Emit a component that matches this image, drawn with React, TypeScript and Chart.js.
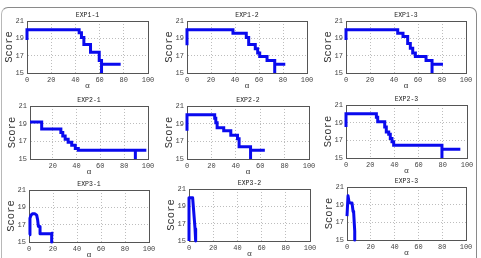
import { useEffect, useRef } from "react";
import { Chart, registerables } from "chart.js";

Chart.register(...registerables);

// Axis ticks shared by every panel
const xTicks = [0, 20, 40, 60, 80, 100];
const yTicks = [15, 17, 19, 21];

// EXP1-1
const exp11Alpha = [0, 0, 43.1, 45, 47, 52.5, 59.7, 61.6, 61.6, 77.4];
const exp11Score = [18.8, 20, 19.65, 19.1, 18.3, 17.4, 16.45, 15, 16, 16];
// EXP1-2
const exp12Alpha = [0, 0, 38.3, 49.4, 51.4, 56.9, 58.9, 60.6, 66.7, 73.1, 73.1, 81.9];
const exp12Score = [18.2, 20, 19.6, 19.1, 18.3, 17.8, 17.3, 16.9, 16.45, 15, 16, 16];
// EXP1-3
const exp13Alpha = [0, 0, 43.1, 47.5, 51.4, 53.6, 55.6, 57.8, 66.7, 71.7, 71.7, 80.8];
const exp13Score = [18.8, 20, 19.6, 19.2, 18.4, 17.85, 17.3, 16.9, 16.45, 15, 16, 16];
// EXP2-1
const exp21Alpha = [1, 10.8, 26.9, 28.5, 30.5, 33, 36, 39, 41.5, 89.4, 89.4, 98.6];
const exp21Score = [19.2, 18.4, 18.0, 17.6, 17.25, 16.9, 16.55, 16.2, 16.0, 15, 16, 16];
// EXP2-2
const exp22Alpha = [0, 0, 22.7, 23.6, 24.7, 30.1, 35.9, 41.4, 42.7, 52.1, 52.1, 63.8];
const exp22Score = [18.2, 20, 19.6, 19.1, 18.55, 18.2, 17.7, 17.3, 16.4, 15, 16, 16];
// EXP2-3
const exp23Alpha = [0, 0, 25.1, 26.2, 32, 33.3, 35.3, 36.6, 38, 39.4, 79.3, 79.3, 94.5];
const exp23Score = [18.5, 20, 19.6, 19.1, 18.5, 17.95, 17.7, 17.2, 16.85, 16.45, 15, 16, 16];
// EXP3-1
const exp31Alpha = [0, 0.8, 1.7, 2.8, 5, 6.4, 7.2, 7.8, 9.2, 9.2, 18.9, 18.9, 18.9, 20.3];
const exp31Score = [15.84, 17.75, 18.1, 18.25, 18.25, 18.1, 17.55, 16.8, 16.8, 15.95, 15.95, 15, 16, 16];
// EXP3-2
const exp32Alpha = [0, 0, 3, 4.4, 5, 5.5, 5.5];
const exp32Score = [15, 20, 20, 17.5, 16.4, 16.25, 15];
// EXP3-3
const exp33Alpha = [0, 0.85, 1.7, 2.8, 4.2, 5.1, 5.6, 6.5, 6.5, 6.5, 7.3];
const exp33Score = [17.7, 20, 19.3, 19.2, 19.2, 18.25, 18.1, 16, 15, 16, 16];

const MONO = '"Liberation Mono", "DejaVu Sans Mono", monospace';
const LINE_BLUE = "#0a0aee";

// Space reserved around each plot area inside its canvas
const AXIS_W = 27;
const TITLE_H = 12;
const XAXIS_H = 18;
const RIGHT_PAD = 10;

type PlotBox = { left: number; top: number; width: number; height: number };

type PanelSpec = {
  title: string;
  alpha: number[];
  score: number[];
  stepped: false | "before";
  xMin: number;
  box: PlotBox;
};

const panels: PanelSpec[] = [
  { title: "EXP1-1", alpha: exp11Alpha, score: exp11Score, stepped: "before", xMin: 0, box: { left: 27, top: 21, width: 121, height: 52 } },
  { title: "EXP1-2", alpha: exp12Alpha, score: exp12Score, stepped: "before", xMin: 0, box: { left: 187, top: 21, width: 120, height: 52 } },
  { title: "EXP1-3", alpha: exp13Alpha, score: exp13Score, stepped: "before", xMin: 0, box: { left: 346, top: 21, width: 120, height: 52 } },
  { title: "EXP2-1", alpha: exp21Alpha, score: exp21Score, stepped: "before", xMin: 1, box: { left: 30, top: 106, width: 118, height: 53 } },
  { title: "EXP2-2", alpha: exp22Alpha, score: exp22Score, stepped: "before", xMin: 0, box: { left: 187, top: 106, width: 122, height: 53 } },
  { title: "EXP2-3", alpha: exp23Alpha, score: exp23Score, stepped: "before", xMin: 0, box: { left: 346, top: 105, width: 121, height: 53 } },
  { title: "EXP3-1", alpha: exp31Alpha, score: exp31Score, stepped: false, xMin: 0, box: { left: 29, top: 190, width: 120, height: 52 } },
  { title: "EXP3-2", alpha: exp32Alpha, score: exp32Score, stepped: false, xMin: 0, box: { left: 189, top: 189, width: 121, height: 52 } },
  { title: "EXP3-3", alpha: exp33Alpha, score: exp33Score, stepped: false, xMin: 0, box: { left: 347, top: 187, width: 119, height: 53 } },
];

// Closed axes box drawn under the data line
const boxPlugin = {
  id: "axesBox",
  beforeDatasetsDraw(chart: any) {
    const { ctx, chartArea } = chart;
    const { left, top, right, bottom } = chartArea;
    ctx.save();
    ctx.strokeStyle = "#555";
    ctx.lineWidth = 1;
    ctx.setLineDash([]);
    ctx.strokeRect(left + 0.5, top + 0.5, right - left, bottom - top);
    ctx.restore();
  },
};

function Panel({ spec }: { spec: PanelSpec }) {
  const ref = useRef<HTMLCanvasElement>(null);
  const { box } = spec;
  const cw = AXIS_W + box.width + RIGHT_PAD;
  const ch = TITLE_H + box.height + XAXIS_H;

  useEffect(() => {
    const canvas = ref.current;
    if (!canvas) return;
    const points = spec.alpha.map((a, i) => ({ x: a, y: spec.score[i] }));
    const tickFont = { family: MONO, size: 7 };
    const chart = new Chart(canvas, {
      type: "line",
      data: {
        datasets: [
          {
            data: points,
            borderColor: LINE_BLUE,
            backgroundColor: LINE_BLUE,
            borderWidth: 3,
            pointRadius: 0,
            stepped: spec.stepped,
            tension: 0,
            fill: false,
            clip: 3,
            borderJoinStyle: spec.stepped ? "miter" : "round",
            borderCapStyle: "butt",
          } as any,
        ],
      },
      options: {
        responsive: false,
        animation: false,
        events: [],
        layout: { padding: { left: 0, right: RIGHT_PAD, top: 0, bottom: 0 } },
        plugins: {
          legend: { display: false },
          tooltip: { enabled: false },
          title: {
            display: true,
            text: spec.title,
            fullSize: false,
            color: "#222",
            font: { family: MONO, size: 6.5, weight: "normal" },
            padding: { top: 2.8, bottom: 1.4 },
          },
        },
        scales: {
          x: {
            type: "linear",
            min: spec.xMin,
            max: 100,
            afterBuildTicks: (s: any) => {
              s.ticks = xTicks.filter((v) => v >= spec.xMin).map((value) => ({ value }));
            },
            afterFit: (s: any) => {
              s.height = XAXIS_H;
              s.paddingLeft = 0;
              s.paddingRight = 0;
            },
            ticks: { color: "#444", font: tickFont, padding: 3, maxRotation: 0, autoSkip: false },
            grid: { color: "#bdbdbd", lineWidth: 1, drawTicks: false },
            border: { display: true, color: "#555", width: 1, dash: [1, 2] },
            title: { display: true, text: "α", color: "#333", font: { family: MONO, size: 8 }, padding: 0 },
          },
          y: {
            type: "linear",
            min: 15,
            max: 21,
            afterBuildTicks: (s: any) => {
              s.ticks = yTicks.map((value) => ({ value }));
            },
            afterFit: (s: any) => {
              s.width = AXIS_W;
              s.paddingTop = 0;
              s.paddingBottom = 0;
            },
            ticks: { color: "#444", font: tickFont, padding: 3 },
            grid: { color: "#bdbdbd", lineWidth: 1, drawTicks: false },
            border: { display: true, color: "#555", width: 1, dash: [1, 2] },
            title: {
              display: true,
              text: "Score",
              color: "#333",
              font: { family: MONO, size: 10.5 },
              padding: { top: 3, bottom: 0 },
            },
          },
        },
      } as any,
      plugins: [boxPlugin],
    });
    return () => chart.destroy();
  }, [spec]);

  return (
    <canvas
      ref={ref}
      width={cw}
      height={ch}
      style={{
        position: "absolute",
        left: box.left - AXIS_W,
        top: box.top - TITLE_H,
        width: cw,
        height: ch,
      }}
    />
  );
}

export default function App() {
  return (
    <div
      style={{
        position: "fixed",
        left: 0,
        top: 0,
        width: 481,
        height: 258,
        overflow: "hidden",
        background: "#fff",
      }}
    >
      <div
        style={{
          position: "absolute",
          left: 1,
          top: 7,
          width: 476,
          height: 280,
          boxSizing: "border-box",
          border: "1px solid #8a8a8a",
          borderLeftColor: "#b8b8b8",
          borderRadius: 7,
        }}
      />
      {panels.map((p) => (
        <Panel key={p.title} spec={p} />
      ))}
    </div>
  );
}
